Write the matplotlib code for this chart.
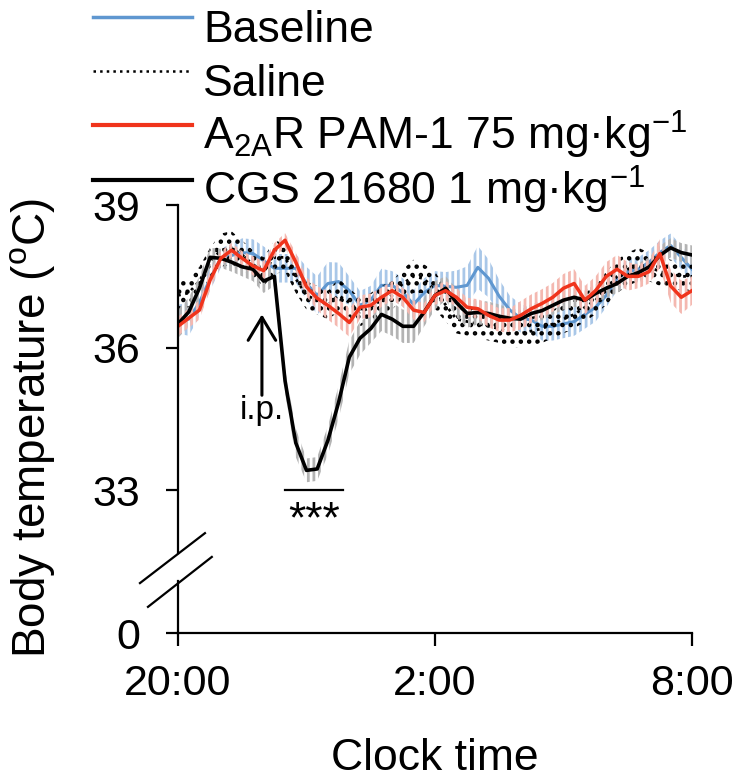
import numpy as np
import matplotlib
matplotlib.use('Agg')
import matplotlib.pyplot as plt
from matplotlib.lines import Line2D

plt.rcParams['font.family'] = ['Liberation Sans', 'DejaVu Sans']
plt.rcParams['mathtext.fontset'] = 'custom'
plt.rcParams['mathtext.rm'] = 'Liberation Sans'
plt.rcParams['mathtext.it'] = 'Liberation Sans:italic'
plt.rcParams['hatch.linewidth'] = 2.0

# hours after 20:00, sampled every 15 min
hours = np.arange(0, 12.01, 0.25)

baseline = [36.6, 36.6, 36.95, 37.45, 37.88, 37.94, 38.0, 37.98, 37.83, 37.67,
            37.67, 37.67, 37.35, 37.1, 37.35, 37.39, 37.2, 36.89, 37.0, 37.31,
            37.31, 37.16, 36.91, 37.16, 37.31, 37.29, 37.27, 37.31, 37.69, 37.46,
            37.08, 36.79, 36.62, 36.58, 36.45, 36.45, 36.5, 36.55, 36.7, 36.85,
            37.1, 37.45, 37.6, 37.65, 37.8, 38.0, 38.15, 37.9, 37.65]
baseline_sem = [0.3, 0.35, 0.3, 0.25, 0.2, 0.25, 0.3, 0.3, 0.3, 0.3,
                0.3, 0.3, 0.35, 0.4, 0.45, 0.4, 0.3, 0.3, 0.3, 0.35,
                0.3, 0.3, 0.3, 0.3, 0.3, 0.3, 0.35, 0.4, 0.45, 0.4,
                0.35, 0.3, 0.3, 0.25, 0.3, 0.3, 0.3, 0.3, 0.3, 0.3,
                0.25, 0.25, 0.25, 0.25, 0.25, 0.25, 0.25, 0.25, 0.25]

saline = [37.1, 37.15, 37.4, 37.8, 38.05, 38.1, 37.95, 37.75, 37.6, 37.9,
          37.9, 37.45, 37.1, 37.0, 36.9, 37.1, 36.95, 36.75, 36.85, 37.0,
          37.1, 37.35, 37.5, 37.45, 37.2, 36.9, 36.6, 36.55, 36.5, 36.45,
          36.4, 36.3, 36.3, 36.35, 36.4, 36.5, 36.6, 36.7, 36.85, 37.0,
          37.25, 37.5, 37.65, 37.75, 37.7, 37.6, 37.55, 37.5, 37.5]
saline_sem = [0.3, 0.3, 0.3, 0.3, 0.35, 0.35, 0.3, 0.3, 0.3, 0.35,
              0.3, 0.3, 0.3, 0.3, 0.3, 0.35, 0.3, 0.3, 0.3, 0.3,
              0.3, 0.3, 0.35, 0.3, 0.4, 0.35, 0.3, 0.3, 0.3, 0.3,
              0.3, 0.3, 0.3, 0.3, 0.3, 0.3, 0.3, 0.3, 0.3, 0.3,
              0.35, 0.35, 0.35, 0.35, 0.3, 0.3, 0.3, 0.3, 0.3]

pam = [36.45, 36.62, 36.79, 37.42, 37.88, 38.05, 37.88, 37.72, 37.62, 38.05,
       38.26, 37.8, 37.28, 37.04, 36.89, 36.72, 36.53, 36.85, 36.89, 37.06,
       37.2, 37.06, 36.79, 36.74, 37.1, 37.2, 37.06, 36.85, 36.82, 36.68,
       36.58, 36.58, 36.68, 36.82, 36.93, 37.06, 37.25, 37.35, 37.0, 37.2,
       37.5, 37.65, 37.5, 37.5, 37.6, 37.98, 37.3, 37.06, 37.2]
pam_sem = [0.2, 0.2, 0.2, 0.2, 0.15, 0.15, 0.15, 0.2, 0.2, 0.15,
           0.15, 0.2, 0.2, 0.25, 0.3, 0.3, 0.3, 0.25, 0.25, 0.2,
           0.2, 0.2, 0.2, 0.2, 0.2, 0.2, 0.2, 0.2, 0.2, 0.25,
           0.25, 0.25, 0.3, 0.3, 0.3, 0.3, 0.3, 0.3, 0.3, 0.3,
           0.3, 0.3, 0.3, 0.25, 0.25, 0.3, 0.35, 0.35, 0.3]

cgs = [36.5, 36.75, 37.25, 37.9, 37.88, 37.8, 37.7, 37.65, 37.4, 37.5,
       35.3, 34.0, 33.42, 33.45, 34.05, 34.85, 35.8, 36.2, 36.4, 36.7,
       36.6, 36.45, 36.45, 36.75, 37.1, 37.25, 36.95, 36.72, 36.74, 36.72,
       36.66, 36.62, 36.6, 36.72, 36.78, 36.89, 37.0, 37.06, 37.0, 37.14,
       37.25, 37.35, 37.5, 37.58, 37.7, 37.94, 38.1, 38.0, 37.95]
cgs_sem = [0.3, 0.3, 0.25, 0.2, 0.2, 0.2, 0.2, 0.25, 0.25, 0.2,
           0.25, 0.3, 0.25, 0.25, 0.3, 0.35, 0.35, 0.35, 0.3, 0.35,
           0.35, 0.35, 0.35, 0.3, 0.3, 0.25, 0.3, 0.3, 0.25, 0.25,
           0.25, 0.2, 0.2, 0.2, 0.2, 0.2, 0.2, 0.2, 0.2, 0.2,
           0.2, 0.2, 0.2, 0.2, 0.2, 0.2, 0.2, 0.2, 0.2]

xtick_pos = [0, 6, 12]
xtick_labels = ['20:00', '2:00', '8:00']
ytick_pos = [30, 33, 36, 39]
ytick_labels = ['0', '33', '36', '39']

labels = ['Baseline', 'Saline',
          'A$_{\\mathrm{2A}}$R PAM-1 75 mg\u00b7kg$^{\\mathrm{-1}}$',
          'CGS 21680 1 mg\u00b7kg$^{\\mathrm{-1}}$']

blue = '#5f97d0'
red = '#f0341c'


def band(ax, x, y, e, color, hatch, z):
    """error bars drawn as a band of close vertical strokes"""
    y = np.array(y)
    e = np.array(e)
    ax.fill_between(x, y - e, y + e, facecolor='none', edgecolor=color,
                    hatch=hatch, lw=0, zorder=z)


fig = plt.figure(figsize=(7.4, 7.79), dpi=100)
ax = fig.add_axes([0.2405, 0.1874, 0.6946, 0.5494])

band(ax, hours, baseline, baseline_sem, '#a9c7e8', '|||', 1)
ax.plot(hours, baseline, color=blue, lw=2.2, zorder=2)

band(ax, hours, saline, saline_sem, 'black', '..', 3)
ax.plot(hours, saline, color='black', lw=2.0, ls=':', zorder=3)

band(ax, hours, cgs, cgs_sem, '#b3b3b3', '|||', 4)
ax.plot(hours, cgs, color='black', lw=2.6, zorder=5)

band(ax, hours, pam, pam_sem, '#f4b8b0', '|||', 4)
ax.plot(hours, pam, color=red, lw=2.5, zorder=6)

ax.set_xlim(0, 12)
ax.set_ylim(30, 39)
ax.set_xticks(xtick_pos)
ax.set_xticklabels(xtick_labels)
ax.set_yticks(ytick_pos)
ax.set_yticklabels(ytick_labels)

for s in ['top', 'right', 'left']:
    ax.spines[s].set_visible(False)
ax.spines['bottom'].set_linewidth(1.6)
ax.tick_params(axis='both', direction='out', length=9, width=1.6, labelsize=31)
ax.tick_params(axis='y', pad=18)
ax.tick_params(axis='x', pad=13)

# broken y axis
ax.plot([0, 0], [31.68, 39], color='black', lw=1.6, clip_on=False, zorder=7)
ax.plot([0, 0], [30, 31.1], color='black', lw=1.6, clip_on=False, zorder=7)
ax.plot([-0.887, 0.63], [31.05, 32.1], color='black', lw=1.6, clip_on=False)
ax.plot([-0.70, 0.79], [30.55, 31.6], color='black', lw=1.6, clip_on=False)

# injection arrow
ax.annotate('', xy=(1.96, 36.7), xytext=(1.96, 35.0),
            arrowprops=dict(arrowstyle='->,head_length=0.55,head_width=0.33',
                            lw=2.2, color='black', mutation_scale=30,
                            shrinkA=0, shrinkB=0))
ax.text(1.96, 34.68, 'i.p.', ha='center', va='center', fontsize=24)

# significance
ax.plot([2.5, 3.85], [33.0, 33.0], color='black', lw=1.6)
ax.text(3.17, 32.12, '***', ha='center', va='baseline', fontsize=32)

ax.set_xlabel('Clock time', fontsize=32)
ax.xaxis.set_label_coords(0.5, -0.245)
ax.set_ylabel('Body temperature ($^{\\mathrm{o}}$C)', fontsize=33)
ax.yaxis.set_label_coords(-0.236, 0.479)

# legend rows above the axes
handles = [dict(color=blue, lw=2.5, ls='-'),
           dict(color='black', lw=1.8, ls=':'),
           dict(color=red, lw=3, ls='-'),
           dict(color='black', lw=3, ls='-')]
row_y = [17, 71, 125, 180]
for st, lab, yy in zip(handles, labels, row_y):
    yf = 1 - yy / 779
    fig.add_artist(Line2D([93 / 740, 192 / 740], [yf, yf], **st))
    fig.text(203 / 740, 1 - (yy + 25) / 779, lab, fontsize=32, ha='left',
             va='baseline')

fig.savefig('out.png', dpi=100)
